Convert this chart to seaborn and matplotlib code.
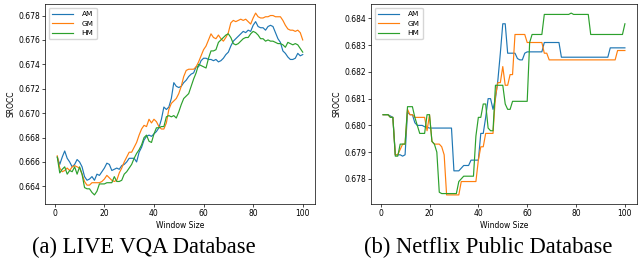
import numpy as np
import pandas as pd
import seaborn as sns
import matplotlib
matplotlib.use("Agg")
import matplotlib.pyplot as plt

# ----------------------------------------------------     Data   ---------------------------------------------------
window_size = list(range(1, 101))

live_am = [
    0.6664, 0.6658, 0.6664, 0.6669, 0.6663, 0.6660, 0.6656, 0.6658, 0.6662, 0.6660,
    0.6656, 0.6648, 0.6645, 0.6646, 0.6648, 0.6645, 0.6650, 0.6649, 0.6652, 0.6655,
    0.6659, 0.6658, 0.6653, 0.6654, 0.6655, 0.6654, 0.6657, 0.6658, 0.6660, 0.6663,
    0.6663, 0.6663, 0.6660, 0.6668, 0.6672, 0.6678, 0.6681, 0.6682, 0.6681, 0.6683,
    0.6685, 0.6688, 0.6695, 0.6705, 0.6703, 0.6705, 0.6712, 0.6725, 0.6722, 0.6721,
    0.6722, 0.6725, 0.6727, 0.6730, 0.6732, 0.6733, 0.6738, 0.6738, 0.6743, 0.6745,
    0.6745, 0.6744, 0.6744, 0.6743, 0.6744, 0.6742, 0.6743, 0.6745, 0.6748, 0.6750,
    0.6755, 0.6759, 0.6761, 0.6763, 0.6765, 0.6767, 0.6766, 0.6768, 0.6767, 0.6772,
    0.6775, 0.6771, 0.6770, 0.6770, 0.6768, 0.6771, 0.6772, 0.6771, 0.6766, 0.6761,
    0.6758, 0.6751, 0.6749, 0.6746, 0.6744, 0.6744, 0.6745, 0.6749, 0.6747, 0.6748,
]
live_gm = [
    0.6665, 0.6655, 0.6652, 0.6653, 0.6655, 0.6653, 0.6656, 0.6657, 0.6656, 0.6655,
    0.6650, 0.6644, 0.6641, 0.6641, 0.6643, 0.6643, 0.6643, 0.6643, 0.6644, 0.6646,
    0.6649, 0.6647, 0.6645, 0.6644, 0.6645, 0.6651, 0.6655, 0.6660, 0.6664, 0.6668,
    0.6668, 0.6672, 0.6676, 0.6682, 0.6687, 0.6690, 0.6689, 0.6695, 0.6692, 0.6695,
    0.6693, 0.6689, 0.6687, 0.6687, 0.6692, 0.6703, 0.6708, 0.6710, 0.6712, 0.6716,
    0.6722, 0.6730, 0.6735, 0.6736, 0.6736, 0.6736, 0.6738, 0.6742, 0.6747, 0.6752,
    0.6755, 0.6760, 0.6765, 0.6762, 0.6761, 0.6764, 0.6761, 0.6759, 0.6762, 0.6766,
    0.6774, 0.6776, 0.6775, 0.6776, 0.6777, 0.6776, 0.6777, 0.6775, 0.6773, 0.6778,
    0.6782, 0.6779, 0.6778, 0.6778, 0.6779, 0.6779, 0.6780, 0.6780, 0.6779, 0.6779,
    0.6779, 0.6776, 0.6772, 0.6769, 0.6768, 0.6768, 0.6767, 0.6768, 0.6766, 0.6760,
]
live_hm = [
    0.6664, 0.6651, 0.6654, 0.6656, 0.6650, 0.6653, 0.6652, 0.6656, 0.6650, 0.6656,
    0.6650, 0.6639, 0.6638, 0.6638, 0.6635, 0.6633, 0.6636, 0.6642, 0.6642, 0.6642,
    0.6643, 0.6643, 0.6643, 0.6648, 0.6644, 0.6644, 0.6645, 0.6650, 0.6652, 0.6655,
    0.6658, 0.6663, 0.6667, 0.6670, 0.6674, 0.6680, 0.6682, 0.6677, 0.6676, 0.6683,
    0.6688, 0.6688, 0.6689, 0.6689, 0.6697, 0.6698, 0.6697, 0.6698, 0.6696, 0.6701,
    0.6707, 0.6712, 0.6714, 0.6716, 0.6722, 0.6728, 0.6733, 0.6740, 0.6739, 0.6738,
    0.6737, 0.6745, 0.6751, 0.6751, 0.6752, 0.6758, 0.6760, 0.6762, 0.6764, 0.6765,
    0.6762, 0.6757, 0.6756, 0.6757, 0.6759, 0.6761, 0.6762, 0.6762, 0.6765, 0.6767,
    0.6766, 0.6764, 0.6761, 0.6761, 0.6759, 0.6760, 0.6759, 0.6759, 0.6758, 0.6757,
    0.6757, 0.6756, 0.6754, 0.6758, 0.6757, 0.6756, 0.6757, 0.6756, 0.6753, 0.6750,
]

netflix_am = [
    0.6804, 0.6804, 0.6804, 0.68035, 0.6803, 0.6789, 0.6789, 0.6789, 0.67885, 0.6789,
    0.6805, 0.6804, 0.6804, 0.6801, 0.6800, 0.6800, 0.6800, 0.67995, 0.67993, 0.6799,
    0.6799, 0.6799, 0.6799, 0.6799, 0.6799, 0.6799, 0.6799, 0.6799, 0.6799, 0.6783,
    0.6783, 0.6783, 0.6784, 0.6785, 0.6785, 0.6785, 0.6787, 0.6787, 0.6787, 0.6787,
    0.6797, 0.6797, 0.6803, 0.6810, 0.6810, 0.6806, 0.6810, 0.6817, 0.6827, 0.6838,
    0.6838, 0.6827, 0.6827, 0.6827, 0.6827, 0.6825, 0.68245, 0.68245, 0.6827, 0.68275,
    0.68275, 0.68275, 0.68275, 0.68275, 0.68275, 0.68275, 0.6831, 0.6831, 0.6831, 0.6831,
    0.6831, 0.6831, 0.6831, 0.68255, 0.68255, 0.68255, 0.68255, 0.68255, 0.68255, 0.68255,
    0.68255, 0.68255, 0.68255, 0.68255, 0.68255, 0.68255, 0.68255, 0.68255, 0.68255, 0.68255,
    0.68255, 0.68255, 0.68255, 0.6829, 0.6829, 0.6829, 0.6829, 0.6829, 0.6829, 0.6829,
]
netflix_gm = [
    0.6804, 0.6804, 0.6804, 0.6803, 0.6803, 0.6789, 0.6789, 0.6791, 0.6793, 0.6793,
    0.6806, 0.6804, 0.6804, 0.6803, 0.6803, 0.6803, 0.6803, 0.6803, 0.6798, 0.6804,
    0.6794, 0.6793, 0.6793, 0.6793, 0.6792, 0.6789, 0.6774, 0.6774, 0.6774, 0.6774,
    0.6774, 0.6774, 0.6779, 0.6779, 0.6779, 0.6779, 0.6779, 0.6779, 0.6779, 0.6787,
    0.6792, 0.6792, 0.6797, 0.6797, 0.6797, 0.6797, 0.6811, 0.6816, 0.6816, 0.6822,
    0.6815, 0.6815, 0.6819, 0.6819, 0.6834, 0.6834, 0.6834, 0.6834, 0.6834, 0.6831,
    0.6831, 0.6831, 0.6831, 0.6831, 0.6831, 0.6831, 0.6827, 0.6827, 0.68245, 0.68245,
    0.68245, 0.68245, 0.68245, 0.68245, 0.68245, 0.68245, 0.68245, 0.68245, 0.68245, 0.68245,
    0.68245, 0.68245, 0.68245, 0.68245, 0.68245, 0.68245, 0.68245, 0.68245, 0.68245, 0.68245,
    0.68245, 0.68245, 0.68245, 0.68245, 0.68245, 0.68245, 0.6828, 0.6828, 0.6828, 0.6828,
]
netflix_hm = [
    0.6804, 0.6804, 0.6804, 0.6803, 0.6803, 0.67885, 0.67885, 0.6793, 0.6793, 0.6793,
    0.6807, 0.6807, 0.6807, 0.6803, 0.6800, 0.6797, 0.6797, 0.6797, 0.6804, 0.6804,
    0.6794, 0.6793, 0.6790, 0.6775, 0.67745, 0.67745, 0.67745, 0.67745, 0.67745, 0.67745,
    0.67745, 0.6779, 0.6780, 0.6781, 0.6781, 0.6781, 0.6781, 0.6781, 0.6796, 0.6803,
    0.6803, 0.6808, 0.6808, 0.6799, 0.6798, 0.6798, 0.6815, 0.6815, 0.6815, 0.6815,
    0.6808, 0.6806, 0.6806, 0.6809, 0.6809, 0.6809, 0.6809, 0.6809, 0.6809, 0.6809,
    0.6831, 0.6834, 0.6834, 0.6834, 0.6834, 0.6834, 0.68415, 0.68415, 0.68415, 0.68415,
    0.68415, 0.68415, 0.68415, 0.68415, 0.68415, 0.68415, 0.68415, 0.6842, 0.68415, 0.68415,
    0.68415, 0.68415, 0.68415, 0.68415, 0.68415, 0.6834, 0.6834, 0.6834, 0.6834, 0.6834,
    0.6834, 0.6834, 0.6834, 0.6834, 0.6834, 0.6834, 0.6834, 0.6834, 0.6834, 0.6838,
]

series_names = ['AM', 'GM', 'HM']
captions = ['(a) LIVE VQA Database', '(b) Netflix Public Database']


# ----------------------------------------------------     Plotting   ---------------------------------------------------
plt.rcParams.update({
    'font.size': 5.5,
    'axes.linewidth': 0.5,
    'xtick.major.size': 2,
    'ytick.major.size': 2,
    'xtick.major.width': 0.5,
    'ytick.major.width': 0.5,
    'xtick.major.pad': 1.5,
    'ytick.major.pad': 1.5,
    'axes.labelpad': 2,
})

def plot_panel(ax, values, ylabel='SROCC'):
    for name, vals in zip(series_names, values):
        sns.lineplot(x=window_size, y=vals, ax=ax, label=name, linewidth=0.85)
    ax.set_xlabel('Window Size')
    ax.set_ylabel(ylabel)
    ax.set_xticks([0, 20, 40, 60, 80, 100])
    ax.legend(loc='upper left', fontsize=5.3, handlelength=2.9, handletextpad=1.1,
              borderpad=0.45, labelspacing=0.45, framealpha=0.8,
              edgecolor='#cccccc', fancybox=True)


fig = plt.figure(figsize=(6.38, 2.66), dpi=100)
ax1 = fig.add_axes([45 / 638, 62 / 266, 270 / 638, 200 / 266])
ax2 = fig.add_axes([371 / 638, 62 / 266, 266 / 638, 200 / 266])

plot_panel(ax1, [live_am, live_gm, live_hm])
ax1.set_yticks(np.arange(0.664, 0.6785, 0.002))
ax1.yaxis.set_major_formatter(matplotlib.ticker.FormatStrFormatter('%.3f'))

plot_panel(ax2, [netflix_am, netflix_gm, netflix_hm])
ax2.set_yticks(np.arange(0.678, 0.6845, 0.001))
ax2.yaxis.set_major_formatter(matplotlib.ticker.FormatStrFormatter('%.3f'))

fig.text(144 / 638, 0.068, captions[0], ha='center', va='center',
         family='Liberation Serif', fontsize=16.3)
fig.text(488 / 638, 0.068, captions[1], ha='center', va='center',
         family='Liberation Serif', fontsize=16.3)

fig.savefig('out.png', dpi=100)
